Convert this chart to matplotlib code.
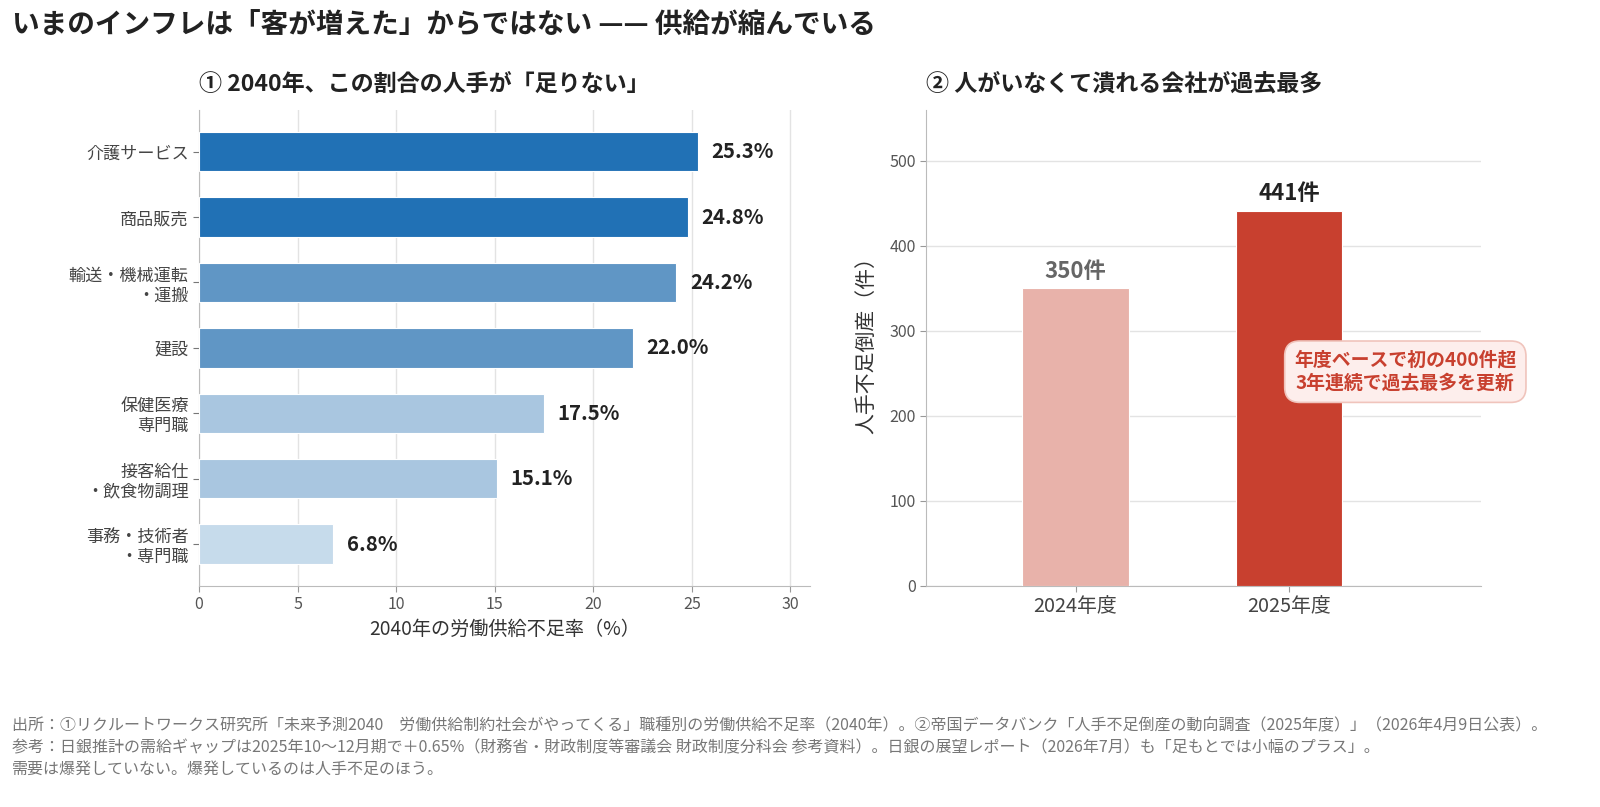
import matplotlib
matplotlib.use("Agg")
import matplotlib.pyplot as plt

plt.rcParams['font.family'] = ['Noto Sans CJK JP', 'DejaVu Sans']

# ---- data ----
categories = ["介護サービス", "商品販売", "輸送・機械運転\n・運搬", "建設",
              "保健医療\n専門職", "接客給仕\n・飲食物調理", "事務・技術者\n・専門職"]
shortage_pct = [25.3, 24.8, 24.2, 22.0, 17.5, 15.1, 6.8]
bar_colors_left = ["#2171b5", "#2171b5", "#6096c5", "#6096c5", "#a9c6e0", "#a9c6e0", "#c6dbeb"]

years = ["2024年度", "2025年度"]
bankruptcies = [350, 441]
bar_colors_right = ["#e8b2aa", "#c8402f"]
label_colors_right = ["#666666", "#222222"]

fig = plt.figure(figsize=(16, 8.07), dpi=100)

# ---- left chart ----
ax1 = fig.add_axes([0.1244, 0.2739, 0.3819, 0.5900])
y = list(range(len(categories)))
ax1.barh(y, shortage_pct, height=0.6, color=bar_colors_left, edgecolor="white", linewidth=0.8, zorder=3)
ax1.set_ylim(6.64, -0.64)
ax1.set_xlim(0, 31)
ax1.set_yticks(y)
ax1.set_yticklabels(categories, fontsize=12.3, color="#444444", linespacing=1.15)
ax1.set_xticks([0, 5, 10, 15, 20, 25, 30])
ax1.tick_params(axis='x', labelsize=11.5, colors="#555555", length=4, color="#999999")
ax1.tick_params(axis='y', length=4, color="#777777")
ax1.grid(axis='x', color="#e3e3e3", linewidth=1, zorder=0)
for s in ["top", "right"]:
    ax1.spines[s].set_visible(False)
for s in ["left", "bottom"]:
    ax1.spines[s].set_color("#bbbbbb")
for yi, v in zip(y, shortage_pct):
    ax1.annotate(f"{v:.1f}%", (v, yi), xytext=(10, 0), textcoords="offset points",
                 va="center", ha="left", fontsize=14.7, fontweight="bold", color="#222222")
ax1.set_xlabel("2040年の労働供給不足率（%）", fontsize=13.8, color="#333333", labelpad=4)
ax1.set_title("① 2040年、この割合の人手が「足りない」", loc="left", fontsize=16.6,
              fontweight="bold", color="#222222", pad=13, x=0.0)

# ---- right chart ----
ax2 = fig.add_axes([0.5788, 0.2739, 0.3469, 0.5900])
x = list(range(len(years)))
ax2.bar(x, bankruptcies, width=0.5, color=bar_colors_right, edgecolor="white", linewidth=0.8, zorder=3)
ax2.set_xlim(-0.7, 1.9)
ax2.set_ylim(0, 560)
ax2.set_xticks(x)
ax2.set_xticklabels(years, fontsize=14.3, color="#444444")
ax2.set_yticks([0, 100, 200, 300, 400, 500])
ax2.tick_params(axis='y', labelsize=11.5, colors="#555555", length=4, color="#999999")
ax2.tick_params(axis='x', length=4, color="#999999")
ax2.grid(axis='y', color="#e3e3e3", linewidth=1, zorder=0)
for s in ["top", "right"]:
    ax2.spines[s].set_visible(False)
for s in ["left", "bottom"]:
    ax2.spines[s].set_color("#bbbbbb")
for xi, v, c in zip(x, bankruptcies, label_colors_right):
    ax2.annotate(f"{v}件", (xi, v), xytext=(0, 4), textcoords="offset points",
                 va="bottom", ha="center", fontsize=16, fontweight="bold", color=c)
ax2.set_ylabel("人手不足倒産（件）", fontsize=15, color="#333333")
ax2.yaxis.set_label_coords(-0.088, 0.517)
ax2.set_title("② 人がいなくて潰れる会社が過去最多", loc="left", fontsize=16.6,
              fontweight="bold", color="#222222", pad=13)
ax2.text(1.545, 252, "年度ベースで初の400件超\n3年連続で過去最多を更新", ha="center", va="center",
         fontsize=13.6, fontweight="bold", color="#c8402f", linespacing=1.3, zorder=5,
         bbox=dict(boxstyle="round,pad=0.5,rounding_size=0.8", facecolor="#fdeeec",
                   edgecolor="#f0c4bc", linewidth=1.2))

# ---- titles & footer ----
fig.text(0.0075, 0.968, "いまのインフレは「客が増えた」からではない —— 供給が縮んでいる",
         fontsize=19.9, fontweight="bold", color="#222222", ha="left", va="center")

footer = ("出所：①リクルートワークス研究所「未来予測2040　労働供給制約社会がやってくる」職種別の労働供給不足率（2040年）。②帝国データバンク「人手不足倒産の動向調査（2025年度）」（2026年4月9日公表）。\n"
          "参考：日銀推計の需給ギャップは2025年10〜12月期で＋0.65%（財務省・財政制度等審議会 財政制度分科会 参考資料）。日銀の展望レポート（2026年7月）も「足もとでは小幅のプラス」。\n"
          "需要は爆発していない。爆発しているのは人手不足のほう。")
fig.text(0.0075, 0.036, footer, fontsize=11.5, color="#777777", ha="left", va="bottom", linespacing=1.35)

fig.savefig("out.png", dpi=100, facecolor="white")
